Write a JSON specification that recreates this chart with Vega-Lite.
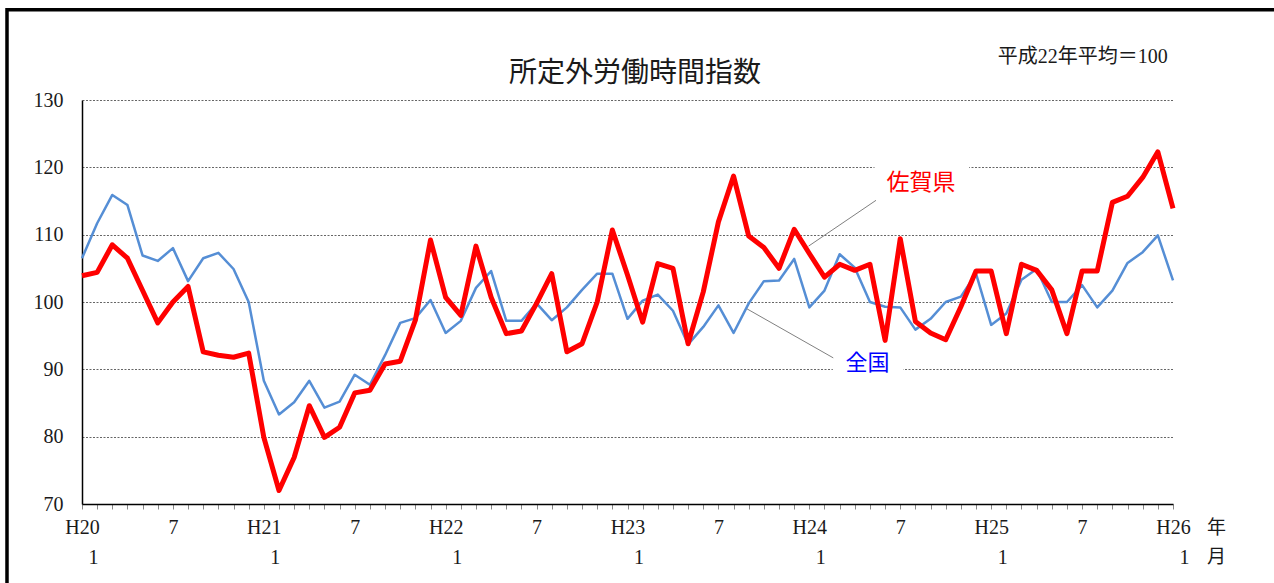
{
  "$schema": "https://vega.github.io/schema/vega-lite/v6.json",
  "width": 1091,
  "height": 404,
  "autosize": {"type": "none"},
  "padding": {"left": 82, "top": 100, "right": 101, "bottom": 79},
  "background": "white",
  "config": {
    "view": {"stroke": null},
    "font": "Liberation Serif"
  },
  "datasets": {
    "index": [
      {"m": 0, "month": "2008-01", "saga": 103.9, "zenkoku": 106.5},
      {"m": 1, "month": "2008-02", "saga": 104.4, "zenkoku": 111.7},
      {"m": 2, "month": "2008-03", "saga": 108.5, "zenkoku": 115.9},
      {"m": 3, "month": "2008-04", "saga": 106.5, "zenkoku": 114.4},
      {"m": 4, "month": "2008-05", "saga": 101.7, "zenkoku": 106.9},
      {"m": 5, "month": "2008-06", "saga": 96.9, "zenkoku": 106.1},
      {"m": 6, "month": "2008-07", "saga": 100.0, "zenkoku": 108.0},
      {"m": 7, "month": "2008-08", "saga": 102.3, "zenkoku": 103.1},
      {"m": 8, "month": "2008-09", "saga": 92.6, "zenkoku": 106.5},
      {"m": 9, "month": "2008-10", "saga": 92.1, "zenkoku": 107.3},
      {"m": 10, "month": "2008-11", "saga": 91.8, "zenkoku": 104.9},
      {"m": 11, "month": "2008-12", "saga": 92.4, "zenkoku": 100.0},
      {"m": 12, "month": "2009-01", "saga": 79.9, "zenkoku": 88.3},
      {"m": 13, "month": "2009-02", "saga": 72.0, "zenkoku": 83.3},
      {"m": 14, "month": "2009-03", "saga": 76.9, "zenkoku": 85.1},
      {"m": 15, "month": "2009-04", "saga": 84.6, "zenkoku": 88.3},
      {"m": 16, "month": "2009-05", "saga": 79.9, "zenkoku": 84.3},
      {"m": 17, "month": "2009-06", "saga": 81.4, "zenkoku": 85.2},
      {"m": 18, "month": "2009-07", "saga": 86.5, "zenkoku": 89.2},
      {"m": 19, "month": "2009-08", "saga": 86.9, "zenkoku": 87.7},
      {"m": 20, "month": "2009-09", "saga": 90.8, "zenkoku": 92.1},
      {"m": 21, "month": "2009-10", "saga": 91.2, "zenkoku": 96.9},
      {"m": 22, "month": "2009-11", "saga": 97.3, "zenkoku": 97.6},
      {"m": 23, "month": "2009-12", "saga": 109.2, "zenkoku": 100.3},
      {"m": 24, "month": "2010-01", "saga": 100.7, "zenkoku": 95.4},
      {"m": 25, "month": "2010-02", "saga": 98.0, "zenkoku": 97.2},
      {"m": 26, "month": "2010-03", "saga": 108.3, "zenkoku": 102.1},
      {"m": 27, "month": "2010-04", "saga": 100.7, "zenkoku": 104.6},
      {"m": 28, "month": "2010-05", "saga": 95.3, "zenkoku": 97.2},
      {"m": 29, "month": "2010-06", "saga": 95.7, "zenkoku": 97.2},
      {"m": 30, "month": "2010-07", "saga": 99.8, "zenkoku": 99.8},
      {"m": 31, "month": "2010-08", "saga": 104.2, "zenkoku": 97.3},
      {"m": 32, "month": "2010-09", "saga": 92.6, "zenkoku": 99.2},
      {"m": 33, "month": "2010-10", "saga": 93.8, "zenkoku": 101.8},
      {"m": 34, "month": "2010-11", "saga": 100.0, "zenkoku": 104.2},
      {"m": 35, "month": "2010-12", "saga": 110.7, "zenkoku": 104.2},
      {"m": 36, "month": "2011-01", "saga": 104.0, "zenkoku": 97.5},
      {"m": 37, "month": "2011-02", "saga": 97.0, "zenkoku": 100.2},
      {"m": 38, "month": "2011-03", "saga": 105.7, "zenkoku": 101.1},
      {"m": 39, "month": "2011-04", "saga": 105.0, "zenkoku": 98.7},
      {"m": 40, "month": "2011-05", "saga": 93.8, "zenkoku": 93.7},
      {"m": 41, "month": "2011-06", "saga": 101.5, "zenkoku": 96.3},
      {"m": 42, "month": "2011-07", "saga": 111.9, "zenkoku": 99.5},
      {"m": 43, "month": "2011-08", "saga": 118.7, "zenkoku": 95.4},
      {"m": 44, "month": "2011-09", "saga": 109.8, "zenkoku": 99.8},
      {"m": 45, "month": "2011-10", "saga": 108.1, "zenkoku": 103.1},
      {"m": 46, "month": "2011-11", "saga": 105.0, "zenkoku": 103.2},
      {"m": 47, "month": "2011-12", "saga": 110.8, "zenkoku": 106.4},
      {"m": 48, "month": "2012-01", "saga": 107.2, "zenkoku": 99.2},
      {"m": 49, "month": "2012-02", "saga": 103.7, "zenkoku": 101.7},
      {"m": 50, "month": "2012-03", "saga": 105.6, "zenkoku": 107.1},
      {"m": 51, "month": "2012-04", "saga": 104.7, "zenkoku": 105.1},
      {"m": 52, "month": "2012-05", "saga": 105.6, "zenkoku": 100.0},
      {"m": 53, "month": "2012-06", "saga": 94.3, "zenkoku": 99.3},
      {"m": 54, "month": "2012-07", "saga": 109.4, "zenkoku": 99.2},
      {"m": 55, "month": "2012-08", "saga": 97.1, "zenkoku": 95.9},
      {"m": 56, "month": "2012-09", "saga": 95.4, "zenkoku": 97.5},
      {"m": 57, "month": "2012-10", "saga": 94.4, "zenkoku": 100.0},
      {"m": 58, "month": "2012-11", "saga": 99.3, "zenkoku": 100.8},
      {"m": 59, "month": "2012-12", "saga": 104.6, "zenkoku": 104.2},
      {"m": 60, "month": "2013-01", "saga": 104.6, "zenkoku": 96.6},
      {"m": 61, "month": "2013-02", "saga": 95.3, "zenkoku": 98.3},
      {"m": 62, "month": "2013-03", "saga": 105.6, "zenkoku": 103.3},
      {"m": 63, "month": "2013-04", "saga": 104.7, "zenkoku": 104.9},
      {"m": 64, "month": "2013-05", "saga": 101.8, "zenkoku": 100.0},
      {"m": 65, "month": "2013-06", "saga": 95.3, "zenkoku": 100.0},
      {"m": 66, "month": "2013-07", "saga": 104.6, "zenkoku": 102.5},
      {"m": 67, "month": "2013-08", "saga": 104.6, "zenkoku": 99.2},
      {"m": 68, "month": "2013-09", "saga": 114.8, "zenkoku": 101.7},
      {"m": 69, "month": "2013-10", "saga": 115.7, "zenkoku": 105.8},
      {"m": 70, "month": "2013-11", "saga": 118.5, "zenkoku": 107.4},
      {"m": 71, "month": "2013-12", "saga": 122.3, "zenkoku": 109.9},
      {"m": 72, "month": "2014-01", "saga": 113.9, "zenkoku": 103.2}
    ],
    "one": [{}]
  },
  "data": {"name": "index"},
  "resolve": {"axis": {"x": "independent", "y": "independent"}},
  "layer": [
    {
      "data": {"name": "one"},
      "mark": {"type": "rect", "fill": "white", "stroke": null},
      "encoding": {
        "x": {"datum": 52.3, "type": "quantitative", "scale": {"domain": [0, 72], "nice": false, "zero": false}, "axis": null},
        "x2": {"datum": 58.55},
        "y": {"datum": 121.0, "type": "quantitative", "scale": {"domain": [70, 130], "nice": false, "zero": false}, "axis": null},
        "y2": {"datum": 115.1}
      }
    },
    {
      "data": {"name": "one"},
      "mark": {"type": "rect", "fill": "white", "stroke": null},
      "encoding": {
        "x": {"datum": 49.55, "type": "quantitative", "axis": null},
        "x2": {"datum": 54.2},
        "y": {"datum": 91.7, "type": "quantitative", "axis": null},
        "y2": {"datum": 87.9}
      }
    },
    {
      "mark": {"type": "line", "color": "#558ED5", "strokeWidth": 2.5, "strokeJoin": "round"},
      "encoding": {
        "x": {
          "field": "m", "type": "quantitative",
          "axis": {
            "orient": "bottom",
            "values": [0, 12, 24, 36, 48, 60, 72],
            "labelExpr": "'1'",
            "labelOffset": 11,
            "domain": false, "ticks": false, "tickSize": 0, "grid": false,
            "labelPadding": 43,
            "labelFont": "Liberation Serif", "labelFontSize": 20, "labelColor": "#1a1a1a",
            "labelOverlap": false, "labelBound": false, "labelFlush": false,
            "title": "月", "titleFont": "Noto Sans CJK JP", "titleFontSize": 19, "titleFontWeight": "normal",
            "titleColor": "#1a1a1a", "titleAngle": 0, "titleX": 1134, "titleY": 52,
            "titleAlign": "center", "titleBaseline": "middle"
          }
        },
        "y": {"field": "zenkoku", "type": "quantitative", "axis": null}
      }
    },
    {
      "mark": {"type": "line", "color": "#FF0000", "strokeWidth": 5, "strokeJoin": "round"},
      "encoding": {
        "x": {"field": "m", "type": "quantitative", "axis": null},
        "y": {"field": "saga", "type": "quantitative", "axis": null}
      }
    },
    {
      "data": {"name": "one"},
      "mark": {"type": "rule", "color": "#808080", "strokeWidth": 1},
      "encoding": {
        "x": {"datum": 47.95, "type": "quantitative", "axis": null},
        "x2": {"datum": 52.4},
        "y": {"datum": 108.3, "type": "quantitative", "axis": null},
        "y2": {"datum": 115.1}
      }
    },
    {
      "data": {"name": "one"},
      "mark": {"type": "rule", "color": "#808080", "strokeWidth": 1},
      "encoding": {
        "x": {"datum": 43.87, "type": "quantitative", "axis": null},
        "x2": {"datum": 49.58},
        "y": {"datum": 99.0, "type": "quantitative", "axis": null},
        "y2": {"datum": 91.7}
      }
    },
    {
      "data": {"name": "one"},
      "mark": {"type": "text", "text": "佐賀県", "font": "Noto Sans CJK JP", "fontSize": 23, "color": "#FF0000", "align": "center", "baseline": "middle"},
      "encoding": {
        "x": {"datum": 55.37, "type": "quantitative", "axis": null},
        "y": {"datum": 117.7, "type": "quantitative", "axis": null}
      }
    },
    {
      "data": {"name": "one"},
      "mark": {"type": "text", "text": "全国", "font": "Noto Sans CJK JP", "fontSize": 22, "color": "#0000FF", "align": "center", "baseline": "middle"},
      "encoding": {
        "x": {"datum": 51.84, "type": "quantitative", "axis": null},
        "y": {"datum": 90.9, "type": "quantitative", "axis": null}
      }
    },
    {
      "data": {"name": "one"},
      "mark": {"type": "text", "text": "所定外労働時間指数", "font": "Noto Sans CJK JP", "fontSize": 28, "color": "#1a1a1a", "align": "center", "baseline": "middle"},
      "encoding": {
        "x": {"datum": 36.5, "type": "quantitative", "axis": null},
        "y": {"datum": 133.8, "type": "quantitative", "axis": null}
      }
    },
    {
      "data": {"name": "one"},
      "mark": {"type": "text", "text": "平成22年平均＝100", "font": "Liberation Serif, Noto Sans CJK JP", "fontSize": 20, "color": "#1a1a1a", "align": "right", "baseline": "middle"},
      "encoding": {
        "x": {"datum": 71.65, "type": "quantitative", "axis": null},
        "y": {"datum": 136.4, "type": "quantitative", "axis": null}
      }
    },
    {
      "data": {"name": "one"},
      "mark": {"type": "rect", "fill": null, "fillOpacity": 0, "stroke": "#000000", "strokeWidth": 3.5},
      "encoding": {
        "x": {
          "datum": -4.95, "type": "quantitative",
          "axis": {
            "orient": "bottom",
            "values": [0,1,2,3,4,5,6,7,8,9,10,11,12,13,14,15,16,17,18,19,20,21,22,23,24,25,26,27,28,29,30,31,32,33,34,35,36,37,38,39,40,41,42,43,44,45,46,47,48,49,50,51,52,53,54,55,56,57,58,59,60,61,62,63,64,65,66,67,68,69,70,71,72],
            "labelExpr": "datum.value % 12 == 0 ? 'H' + (20 + datum.value / 12) : (datum.value % 12 == 6 ? '7' : '')",
            "domain": true, "domainColor": "#000000", "domainWidth": 1.5,
            "ticks": true, "tickColor": "#888888", "tickSize": 5, "tickWidth": 1,
            "grid": false,
            "labelPadding": 8,
            "labelFont": "Liberation Serif", "labelFontSize": 20, "labelColor": "#1a1a1a",
            "labelOverlap": false, "labelBound": false, "labelFlush": false,
            "title": "年", "titleFont": "Noto Sans CJK JP", "titleFontSize": 19, "titleFontWeight": "normal",
            "titleColor": "#1a1a1a", "titleAngle": 0, "titleX": 1134, "titleY": 23,
            "titleAlign": "center", "titleBaseline": "middle"
          }
        },
        "x2": {"datum": 80},
        "y": {
          "datum": 143.4, "type": "quantitative",
          "axis": {
            "orient": "left",
            "values": [70, 80, 90, 100, 110, 120, 130],
            "domain": true, "domainColor": "#000000", "domainWidth": 1.5,
            "ticks": false,
            "grid": true, "gridColor": "#666666", "gridDash": [2, 1.5], "gridWidth": 1,
            "labelPadding": 19,
            "labelFont": "Liberation Serif", "labelFontSize": 20, "labelColor": "#1a1a1a",
            "title": null
          }
        },
        "y2": {"datum": 55}
      }
    }
  ]
}
